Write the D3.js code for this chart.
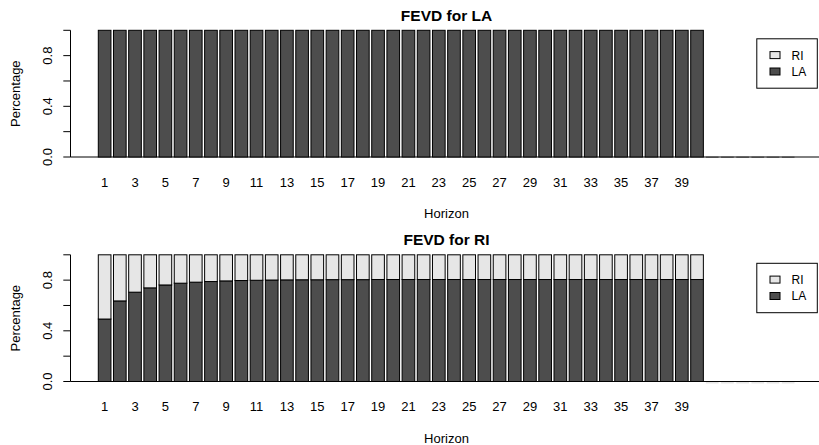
<!DOCTYPE html>
<html>
<head>
<meta charset="utf-8">
<script src="https://cdn.jsdelivr.net/npm/d3@7"></script>
<style>
  html, body { margin: 0; padding: 0; background: #fff; }
  svg { display: block; font-family: "Liberation Sans", Arial, Helvetica, sans-serif; }
</style>
</head>
<body>
<svg id="chart" width="819" height="445"></svg>
<script>
// Forecast horizons (steps ahead)
const horizons = [1,2,3,4,5,6,7,8,9,10,11,12,13,14,15,16,17,18,19,20,
                  21,22,23,24,25,26,27,28,29,30,31,32,33,34,35,36,37,38,39,40];
// Empty slots appended to the right of the bars (room for the legend)
const padSlots = 6;

// Variance-share series: FEVD for LA
const laShareOfLA = [1,1,1,1,1,1,1,1,1,1,1,1,1,1,1,1,1,1,1,1,
                     1,1,1,1,1,1,1,1,1,1,1,1,1,1,1,1,1,1,1,1];
const riShareOfLA = [0,0,0,0,0,0,0,0,0,0,0,0,0,0,0,0,0,0,0,0,
                     0,0,0,0,0,0,0,0,0,0,0,0,0,0,0,0,0,0,0,0];

// Variance-share series: FEVD for RI
const laShareOfRI = [0.493,0.636,0.705,0.739,0.762,0.776,0.784,0.789,0.794,0.797,
                     0.799,0.801,0.802,0.803,0.803,0.804,0.804,0.804,0.805,0.805,
                     0.805,0.805,0.805,0.805,0.805,0.805,0.805,0.805,0.805,0.805,
                     0.805,0.805,0.805,0.805,0.805,0.805,0.805,0.805,0.805,0.805];
const riShareOfRI = [0.507,0.364,0.295,0.261,0.238,0.224,0.216,0.211,0.206,0.203,
                     0.201,0.199,0.198,0.197,0.197,0.196,0.196,0.196,0.195,0.195,
                     0.195,0.195,0.195,0.195,0.195,0.195,0.195,0.195,0.195,0.195,
                     0.195,0.195,0.195,0.195,0.195,0.195,0.195,0.195,0.195,0.195];

const yTicks = [0, 0.2, 0.4, 0.6, 0.8, 1.0];
const yTickLabels = ["0.0", "", "0.4", "", "0.8", ""];
const legendKeys = ["RI", "LA"];
const colors = { LA: "#4d4d4d", RI: "#e6e6e6" };

const panels = [
  { title: "FEVD for LA", LA: laShareOfLA, RI: riShareOfLA, y0: 157, y1: 30.3, baseDash: "#4d4d4d", dashOff: 0 },
  { title: "FEVD for RI", LA: laShareOfRI, RI: riShareOfRI, y0: 381.5, y1: 254.8, baseDash: "#e6e6e6", dashOff: 1 }
];

const svg = d3.select("#chart");
const axisX = 70.5, plotRight = 822.5;
const centerX = (axisX + plotRight) / 2;

const slots = d3.range(horizons.length + padSlots);
const x = d3.scaleBand().domain(slots).range([98.3, 794.5]).paddingInner(0.2 / 1.2).paddingOuter(0);

panels.forEach(p => {
  const g = svg.append("g");
  const y = d3.scaleLinear().domain([0, 1]).range([p.y0, p.y1]);

  // title
  g.append("text").attr("x", centerX).attr("y", p.y1 - 9.8)
    .attr("text-anchor", "middle").attr("font-weight", "bold").attr("font-size", 15.5)
    .text(p.title);

  // baseline at zero
  g.append("line").attr("x1", axisX).attr("x2", 819).attr("y1", y(0)).attr("y2", y(0))
    .attr("stroke", "#000").attr("stroke-width", 1);

  // stacked bars: LA at bottom, RI on top
  const rows = horizons.map((h, i) => ({ i, h, la: p.LA[i], ri: p.RI[i] }));
  g.selectAll("rect.la").data(rows).join("rect").attr("class", "la")
    .attr("x", d => x(d.i)).attr("width", x.bandwidth())
    .attr("y", d => y(d.la)).attr("height", d => y(0) - y(d.la))
    .attr("fill", colors.LA).attr("stroke", "#000").attr("stroke-width", 1);
  g.selectAll("rect.ri").data(rows.filter(d => d.ri > 0)).join("rect").attr("class", "ri")
    .attr("x", d => x(d.i)).attr("width", x.bandwidth())
    .attr("y", d => y(d.la + d.ri)).attr("height", d => y(d.la) - y(d.la + d.ri))
    .attr("fill", colors.RI).attr("stroke", "#000").attr("stroke-width", 1);

  // zero-height placeholder slots
  const pads = slots.slice(horizons.length);
  g.selectAll("rect.pad").data(pads).join("rect").attr("class", "pad")
    .attr("x", d => x(d)).attr("width", x.bandwidth())
    .attr("y", y(0) - 0.5 + p.dashOff).attr("height", 1.5)
    .attr("fill", p.baseDash);

  // y axis
  const ya = g.append("g");
  ya.append("line").attr("x1", axisX).attr("x2", axisX).attr("y1", y(0)).attr("y2", y(1))
    .attr("stroke", "#000");
  ya.selectAll("line.tick").data(yTicks).join("line").attr("class", "tick")
    .attr("x1", axisX - 7.2).attr("x2", axisX).attr("y1", d => y(d)).attr("y2", d => y(d))
    .attr("stroke", "#000");
  ya.selectAll("text").data(yTicks.map((v, i) => ({ v, lab: yTickLabels[i] })).filter(d => d.lab))
    .join("text")
    .attr("transform", d => `translate(51.7,${y(d.v)}) rotate(-90)`)
    .attr("text-anchor", "middle").attr("font-size", 13).text(d => d.lab);

  // x labels (every other horizon)
  g.selectAll("text.xl").data(rows.filter(d => d.h % 2 === 1)).join("text").attr("class", "xl")
    .attr("x", d => x(d.i) + x.bandwidth() / 2).attr("y", y(0) + 29.5)
    .attr("text-anchor", "middle").attr("font-size", 13).text(d => d.h);

  // axis titles
  g.append("text").attr("x", centerX).attr("y", y(0) + 61)
    .attr("text-anchor", "middle").attr("font-size", 13).text("Horizon");
  g.append("text").attr("transform", `translate(19.5,${(y(0) + y(1)) / 2}) rotate(-90)`)
    .attr("text-anchor", "middle").attr("font-size", 13).text("Percentage");

  // legend
  const lx = 756.8, ly = y(1) + 8.5, lw = 60.5, lh = 49.4;
  const lg = g.append("g");
  lg.append("rect").attr("x", lx).attr("y", ly).attr("width", lw).attr("height", lh)
    .attr("fill", "#fff").attr("stroke", "#000");
  legendKeys.forEach((k, i) => {
    const cy = ly + 16.3 + i * 16.4;
    lg.append("rect").attr("x", 770).attr("y", cy - 3.5).attr("width", 10).attr("height", 7)
      .attr("fill", colors[k]).attr("stroke", "#000");
    lg.append("text").attr("x", 791.5).attr("y", cy + 4.4).attr("font-size", 12).text(k);
  });
});
</script>
</body>
</html>
